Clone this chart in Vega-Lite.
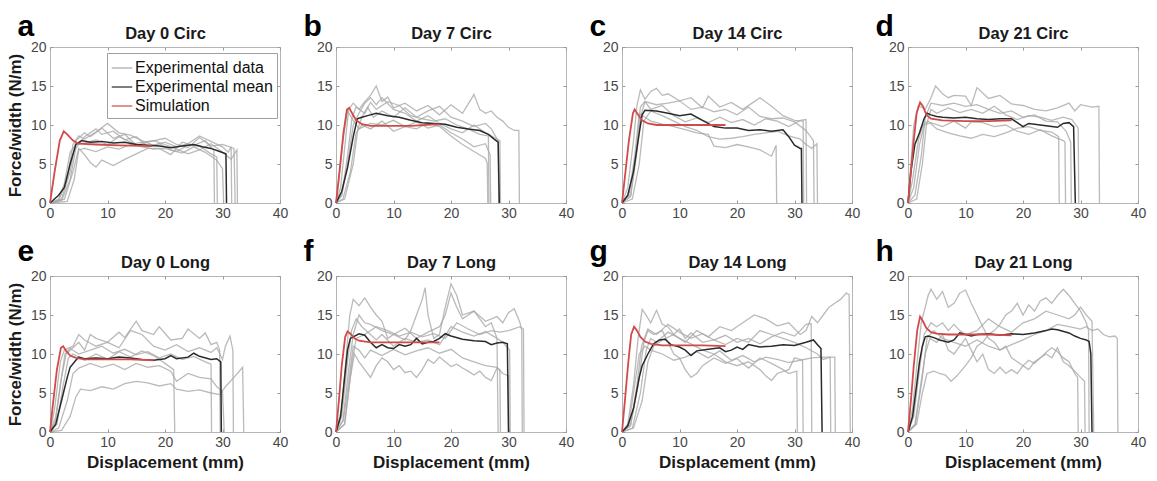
{
"$schema": "https://vega.github.io/schema/vega-lite/v6.json",
"background": "white",
"padding": {"left": 5, "top": 10, "right": 5, "bottom": 5},
"config": {
  "font": "Liberation Sans",
  "view": {"stroke": "#b5b5b5", "strokeWidth": 1},
  "axis": {"grid": false, "domain": false, "ticks": true, "tickColor": "#9a9a9a", "tickSize": -3, "tickWidth": 1,
    "labelFont": "Liberation Sans", "labelFontSize": 14, "labelColor": "#474747", "labelPadding": 6, "labelFlush": false, "labelOverlap": false,
    "titleFont": "Liberation Sans", "titleFontWeight": "bold", "titleColor": "#1a1a1a"},
  "axisLeft": {"labelPadding": 7}
},
"datasets": {
"a": [
{"id":"1","x":0,"y":0},{"id":"1","x":1.5,"y":0.3},{"id":"1","x":3,"y":3},{"id":"1","x":4,"y":7.5},{"id":"1","x":5,"y":8.6},{"id":"1","x":6,"y":8.2},{"id":"1","x":8,"y":9.1},{"id":"1","x":10,"y":10.2},{"id":"1","x":12,"y":9},{"id":"1","x":14,"y":8.7},{"id":"1","x":16,"y":8},{"id":"1","x":18,"y":7.4},{"id":"1","x":20,"y":7.8},{"id":"1","x":22,"y":7.2},{"id":"1","x":24,"y":7.6},{"id":"1","x":26,"y":8.6},{"id":"1","x":28,"y":7.9},{"id":"1","x":30,"y":7.2},{"id":"1","x":31,"y":6.5},{"id":"1","x":31.5,"y":7.2},{"id":"1","x":31.6,"y":0},
{"id":"2","x":0,"y":0},{"id":"2","x":2,"y":0.3},{"id":"2","x":3.5,"y":3},{"id":"2","x":4.5,"y":7},{"id":"2","x":6,"y":8.5},{"id":"2","x":8,"y":9.5},{"id":"2","x":9,"y":8.8},{"id":"2","x":11,"y":9.2},{"id":"2","x":13,"y":8.1},{"id":"2","x":15,"y":8.5},{"id":"2","x":17,"y":7.2},{"id":"2","x":19,"y":7.6},{"id":"2","x":21,"y":6.8},{"id":"2","x":23,"y":6.4},{"id":"2","x":25,"y":7.2},{"id":"2","x":27,"y":6.5},{"id":"2","x":29,"y":5.5},{"id":"2","x":30,"y":4.4},{"id":"2","x":30.2,"y":0},
{"id":"3","x":0,"y":0},{"id":"3","x":2.5,"y":0.5},{"id":"3","x":4,"y":4},{"id":"3","x":5,"y":7},{"id":"3","x":6,"y":6.2},{"id":"3","x":7,"y":5.2},{"id":"3","x":8,"y":4.6},{"id":"3","x":9,"y":5.5},{"id":"3","x":11,"y":4.8},{"id":"3","x":13,"y":5.6},{"id":"3","x":15,"y":6.3},{"id":"3","x":17,"y":7},{"id":"3","x":19,"y":7},{"id":"3","x":21,"y":6.2},{"id":"3","x":23,"y":7.8},{"id":"3","x":25,"y":7.4},{"id":"3","x":27,"y":8},{"id":"3","x":28.5,"y":6.7},{"id":"3","x":28.6,"y":0},
{"id":"4","x":0,"y":0},{"id":"4","x":1.5,"y":0.5},{"id":"4","x":2.5,"y":2.5},{"id":"4","x":3.5,"y":6.5},{"id":"4","x":4.5,"y":7.5},{"id":"4","x":6,"y":7.7},{"id":"4","x":8,"y":8.1},{"id":"4","x":10,"y":7.5},{"id":"4","x":12,"y":8.5},{"id":"4","x":14,"y":7.8},{"id":"4","x":16,"y":7.2},{"id":"4","x":18,"y":6.9},{"id":"4","x":20,"y":7},{"id":"4","x":22,"y":6.6},{"id":"4","x":24,"y":7.4},{"id":"4","x":26,"y":7.3},{"id":"4","x":28,"y":6.3},{"id":"4","x":29,"y":5.9},{"id":"4","x":29.1,"y":0},
{"id":"5","x":0,"y":0},{"id":"5","x":2,"y":0.5},{"id":"5","x":3.5,"y":4},{"id":"5","x":4.5,"y":8},{"id":"5","x":6,"y":9},{"id":"5","x":7,"y":8.5},{"id":"5","x":9,"y":9.6},{"id":"5","x":11,"y":8.3},{"id":"5","x":13,"y":8.8},{"id":"5","x":15,"y":7.4},{"id":"5","x":17,"y":7.8},{"id":"5","x":20,"y":8.3},{"id":"5","x":22,"y":7.5},{"id":"5","x":24,"y":7.1},{"id":"5","x":26,"y":8.4},{"id":"5","x":28,"y":7.3},{"id":"5","x":30,"y":7.5},{"id":"5","x":32,"y":7},{"id":"5","x":32.2,"y":0},
{"id":"6","x":0,"y":0},{"id":"6","x":3,"y":0.2},{"id":"6","x":4.2,"y":3},{"id":"6","x":5,"y":6.8},{"id":"6","x":6,"y":7},{"id":"6","x":8,"y":6.6},{"id":"6","x":10,"y":7.2},{"id":"6","x":12,"y":6.9},{"id":"6","x":14,"y":7.5},{"id":"6","x":16,"y":7.8},{"id":"6","x":18,"y":8},{"id":"6","x":20,"y":7.5},{"id":"6","x":22,"y":6.9},{"id":"6","x":24,"y":6.3},{"id":"6","x":26,"y":6.8},{"id":"6","x":28,"y":7.6},{"id":"6","x":30,"y":6.5},{"id":"6","x":31.5,"y":5.6},{"id":"6","x":32.5,"y":6.8},{"id":"6","x":32.6,"y":0},
{"id":"m","x":0,"y":0},{"id":"m","x":1.5,"y":1},{"id":"m","x":2.5,"y":2},{"id":"m","x":3.5,"y":5},{"id":"m","x":4.5,"y":7.5},{"id":"m","x":5.5,"y":8},{"id":"m","x":7,"y":7.8},{"id":"m","x":9,"y":7.9},{"id":"m","x":11,"y":7.7},{"id":"m","x":13,"y":7.8},{"id":"m","x":15,"y":7.5},{"id":"m","x":17,"y":7.4},{"id":"m","x":19,"y":7.3},{"id":"m","x":21,"y":7.1},{"id":"m","x":23,"y":7.3},{"id":"m","x":25,"y":7.5},{"id":"m","x":26.5,"y":7.2},{"id":"m","x":28,"y":7},{"id":"m","x":29.5,"y":6.6},{"id":"m","x":30.6,"y":6.3},{"id":"m","x":30.7,"y":0},
{"id":"r","x":0,"y":0},{"id":"r","x":0.8,"y":4},{"id":"r","x":1.7,"y":8},{"id":"r","x":2.4,"y":9.2},{"id":"r","x":3,"y":8.8},{"id":"r","x":4,"y":8},{"id":"r","x":5,"y":7.6},{"id":"r","x":8,"y":7.5},{"id":"r","x":12,"y":7.4},{"id":"r","x":17.8,"y":7.3}
],
"b": [
{"id":"1","x":0,"y":0},{"id":"1","x":0.8,"y":2},{"id":"1","x":1.5,"y":7},{"id":"1","x":2.2,"y":12},{"id":"1","x":3,"y":12.8},{"id":"1","x":4,"y":12},{"id":"1","x":5,"y":13},{"id":"1","x":6,"y":13.8},{"id":"1","x":7,"y":15},{"id":"1","x":8,"y":13},{"id":"1","x":9,"y":13.6},{"id":"1","x":10,"y":12.2},{"id":"1","x":12,"y":12.8},{"id":"1","x":14,"y":11.8},{"id":"1","x":16,"y":12.5},{"id":"1","x":18,"y":11.3},{"id":"1","x":20,"y":12.6},{"id":"1","x":22,"y":11.5},{"id":"1","x":24,"y":13.9},{"id":"1","x":25,"y":12},{"id":"1","x":26,"y":11.5},{"id":"1","x":27,"y":11.8},{"id":"1","x":28,"y":11},{"id":"1","x":29,"y":10.5},{"id":"1","x":30,"y":9.7},{"id":"1","x":31,"y":9.3},{"id":"1","x":31.8,"y":9.3},{"id":"1","x":31.9,"y":0},
{"id":"2","x":0,"y":0},{"id":"2","x":1,"y":1},{"id":"2","x":2,"y":5},{"id":"2","x":3,"y":10},{"id":"2","x":4,"y":11.5},{"id":"2","x":5,"y":12.8},{"id":"2","x":6,"y":13.5},{"id":"2","x":7,"y":12.6},{"id":"2","x":8,"y":13.5},{"id":"2","x":10,"y":12},{"id":"2","x":12,"y":11.5},{"id":"2","x":14,"y":10.5},{"id":"2","x":16,"y":11.2},{"id":"2","x":18,"y":10.2},{"id":"2","x":20,"y":9.5},{"id":"2","x":22,"y":9},{"id":"2","x":24,"y":10},{"id":"2","x":26,"y":9},{"id":"2","x":27,"y":8.6},{"id":"2","x":28.5,"y":8},{"id":"2","x":28.6,"y":0},
{"id":"3","x":0,"y":0},{"id":"3","x":1.2,"y":0.5},{"id":"3","x":2.5,"y":4},{"id":"3","x":3.5,"y":9},{"id":"3","x":4.5,"y":10},{"id":"3","x":6,"y":9.5},{"id":"3","x":8,"y":10.5},{"id":"3","x":10,"y":9.2},{"id":"3","x":12,"y":9.8},{"id":"3","x":14,"y":9.5},{"id":"3","x":16,"y":10.3},{"id":"3","x":18,"y":9.8},{"id":"3","x":20,"y":8.6},{"id":"3","x":22,"y":7.5},{"id":"3","x":24,"y":6.6},{"id":"3","x":26,"y":5.7},{"id":"3","x":26.3,"y":5.1},{"id":"3","x":26.4,"y":0},
{"id":"4","x":0,"y":0},{"id":"4","x":0.5,"y":3},{"id":"4","x":1.2,"y":8},{"id":"4","x":2,"y":11.8},{"id":"4","x":3,"y":10.6},{"id":"4","x":4,"y":9.5},{"id":"4","x":6,"y":10.2},{"id":"4","x":8,"y":10},{"id":"4","x":10,"y":10.6},{"id":"4","x":12,"y":9.8},{"id":"4","x":14,"y":10.4},{"id":"4","x":16,"y":9.6},{"id":"4","x":18,"y":10},{"id":"4","x":20,"y":9},{"id":"4","x":22,"y":8.2},{"id":"4","x":24,"y":7.2},{"id":"4","x":26,"y":7.6},{"id":"4","x":26.8,"y":6.2},{"id":"4","x":26.9,"y":0},
{"id":"5","x":0,"y":0},{"id":"5","x":1.5,"y":0.5},{"id":"5","x":3,"y":5},{"id":"5","x":3.8,"y":9.5},{"id":"5","x":4.5,"y":11},{"id":"5","x":5.5,"y":12.3},{"id":"5","x":6.5,"y":11},{"id":"5","x":8,"y":11.8},{"id":"5","x":10,"y":11},{"id":"5","x":12,"y":12.2},{"id":"5","x":14,"y":11},{"id":"5","x":16,"y":11.8},{"id":"5","x":18,"y":12.4},{"id":"5","x":20,"y":11},{"id":"5","x":22,"y":10.5},{"id":"5","x":24,"y":9.8},{"id":"5","x":26,"y":10.2},{"id":"5","x":27,"y":9.5},{"id":"5","x":28.2,"y":8},{"id":"5","x":28.3,"y":0},
{"id":"6","x":0,"y":0},{"id":"6","x":1,"y":1},{"id":"6","x":2,"y":6},{"id":"6","x":2.8,"y":11},{"id":"6","x":3.5,"y":12.3},{"id":"6","x":5,"y":11.5},{"id":"6","x":6,"y":12.9},{"id":"6","x":7,"y":12},{"id":"6","x":9,"y":13},{"id":"6","x":11,"y":12.5},{"id":"6","x":13,"y":11.2},{"id":"6","x":15,"y":10.8},{"id":"6","x":17,"y":10.5},{"id":"6","x":19,"y":10.8},{"id":"6","x":21,"y":10},{"id":"6","x":23,"y":9.5},{"id":"6","x":25,"y":8.8},{"id":"6","x":26.5,"y":8.6},{"id":"6","x":26.6,"y":0},
{"id":"m","x":0,"y":0},{"id":"m","x":1,"y":1.5},{"id":"m","x":2,"y":4.5},{"id":"m","x":3,"y":8.5},{"id":"m","x":3.7,"y":10.8},{"id":"m","x":4.5,"y":11},{"id":"m","x":5.5,"y":11.2},{"id":"m","x":7,"y":11.5},{"id":"m","x":9,"y":11.2},{"id":"m","x":11,"y":11},{"id":"m","x":13,"y":10.6},{"id":"m","x":15,"y":10.3},{"id":"m","x":17,"y":10.2},{"id":"m","x":19,"y":10.1},{"id":"m","x":21,"y":9.7},{"id":"m","x":23,"y":9.5},{"id":"m","x":25,"y":9.3},{"id":"m","x":26.5,"y":8.8},{"id":"m","x":27.5,"y":8.2},{"id":"m","x":28.2,"y":7.8},{"id":"m","x":28.4,"y":0},
{"id":"r","x":0,"y":0},{"id":"r","x":0.6,"y":4},{"id":"r","x":1.3,"y":9},{"id":"r","x":1.9,"y":12},{"id":"r","x":2.3,"y":12.2},{"id":"r","x":2.8,"y":11.5},{"id":"r","x":3.5,"y":10.6},{"id":"r","x":4.5,"y":10.1},{"id":"r","x":6,"y":9.9},{"id":"r","x":9,"y":9.9},{"id":"r","x":13,"y":9.9},{"id":"r","x":18,"y":10.1}
],
"c": [
{"id":"1","x":0,"y":0},{"id":"1","x":1,"y":2},{"id":"1","x":2,"y":8},{"id":"1","x":2.6,"y":12.5},{"id":"1","x":3.2,"y":14.5},{"id":"1","x":4,"y":13.3},{"id":"1","x":5,"y":14.3},{"id":"1","x":6,"y":14.7},{"id":"1","x":7,"y":13.8},{"id":"1","x":8,"y":14},{"id":"1","x":10,"y":13.1},{"id":"1","x":12,"y":13.5},{"id":"1","x":14,"y":12.2},{"id":"1","x":15,"y":13.7},{"id":"1","x":17,"y":12.3},{"id":"1","x":19,"y":12.9},{"id":"1","x":21,"y":12},{"id":"1","x":23,"y":13},{"id":"1","x":24,"y":13.5},{"id":"1","x":26,"y":12.4},{"id":"1","x":28,"y":11.2},{"id":"1","x":30,"y":10.6},{"id":"1","x":31.5,"y":10.5},{"id":"1","x":31.6,"y":0},
{"id":"2","x":0,"y":0},{"id":"2","x":1.5,"y":0.8},{"id":"2","x":2.5,"y":6},{"id":"2","x":3.2,"y":11},{"id":"2","x":4,"y":13},{"id":"2","x":6,"y":12.6},{"id":"2","x":8,"y":12.8},{"id":"2","x":10,"y":13.1},{"id":"2","x":12,"y":12},{"id":"2","x":14,"y":12.3},{"id":"2","x":16,"y":11.7},{"id":"2","x":18,"y":12},{"id":"2","x":20,"y":11.3},{"id":"2","x":22,"y":12.3},{"id":"2","x":24,"y":11.1},{"id":"2","x":26,"y":10.8},{"id":"2","x":28,"y":10.9},{"id":"2","x":30,"y":10.4},{"id":"2","x":32,"y":9.3},{"id":"2","x":33.3,"y":8},{"id":"2","x":33.4,"y":0},
{"id":"3","x":0,"y":0},{"id":"3","x":1.2,"y":1},{"id":"3","x":2.2,"y":6},{"id":"3","x":3,"y":11.5},{"id":"3","x":4,"y":11},{"id":"3","x":5,"y":10.5},{"id":"3","x":7,"y":10.1},{"id":"3","x":9,"y":9.8},{"id":"3","x":11,"y":9.4},{"id":"3","x":13,"y":9},{"id":"3","x":15,"y":8.8},{"id":"3","x":16,"y":7.3},{"id":"3","x":18,"y":7.1},{"id":"3","x":20,"y":7.5},{"id":"3","x":22,"y":7.2},{"id":"3","x":24,"y":6.8},{"id":"3","x":26,"y":6},{"id":"3","x":26.8,"y":7.4},{"id":"3","x":26.9,"y":0},
{"id":"4","x":0,"y":0},{"id":"4","x":1.8,"y":0.5},{"id":"4","x":3,"y":5},{"id":"4","x":3.8,"y":10.5},{"id":"4","x":5,"y":11.8},{"id":"4","x":7,"y":11.2},{"id":"4","x":9,"y":10.5},{"id":"4","x":11,"y":9.8},{"id":"4","x":13,"y":9.3},{"id":"4","x":15,"y":8.5},{"id":"4","x":17,"y":8.2},{"id":"4","x":19,"y":8.3},{"id":"4","x":21,"y":8.5},{"id":"4","x":23,"y":8.8},{"id":"4","x":25,"y":9},{"id":"4","x":27,"y":9.2},{"id":"4","x":29,"y":8.6},{"id":"4","x":31,"y":8.2},{"id":"4","x":32,"y":7.5},{"id":"4","x":33,"y":7},{"id":"4","x":33.9,"y":7.6},{"id":"4","x":34,"y":0},
{"id":"5","x":0,"y":0},{"id":"5","x":1.5,"y":1},{"id":"5","x":2.5,"y":7},{"id":"5","x":3.2,"y":12.3},{"id":"5","x":4,"y":13},{"id":"5","x":5,"y":12},{"id":"5","x":7,"y":12.5},{"id":"5","x":9,"y":11.2},{"id":"5","x":11,"y":10.4},{"id":"5","x":13,"y":10.9},{"id":"5","x":15,"y":10.3},{"id":"5","x":17,"y":11},{"id":"5","x":19,"y":10.3},{"id":"5","x":21,"y":10.7},{"id":"5","x":23,"y":10},{"id":"5","x":25,"y":10.8},{"id":"5","x":27,"y":10.5},{"id":"5","x":29,"y":9.8},{"id":"5","x":31,"y":10.6},{"id":"5","x":32,"y":10.7},{"id":"5","x":32.1,"y":0},
{"id":"m","x":0,"y":0},{"id":"m","x":1,"y":1},{"id":"m","x":2,"y":4},{"id":"m","x":3,"y":9},{"id":"m","x":3.5,"y":11.3},{"id":"m","x":4,"y":11.9},{"id":"m","x":6,"y":11.8},{"id":"m","x":8,"y":11.5},{"id":"m","x":10,"y":11.2},{"id":"m","x":12,"y":11.4},{"id":"m","x":14,"y":10.6},{"id":"m","x":16,"y":9.8},{"id":"m","x":18,"y":9.6},{"id":"m","x":20,"y":9.6},{"id":"m","x":22,"y":9.3},{"id":"m","x":24,"y":9.4},{"id":"m","x":26,"y":9.2},{"id":"m","x":28,"y":9.4},{"id":"m","x":29,"y":8.5},{"id":"m","x":30,"y":7.4},{"id":"m","x":31,"y":7},{"id":"m","x":31.2,"y":7},{"id":"m","x":31.3,"y":0},
{"id":"r","x":0,"y":0},{"id":"r","x":0.6,"y":4},{"id":"r","x":1.2,"y":8},{"id":"r","x":1.9,"y":11.5},{"id":"r","x":2.2,"y":12},{"id":"r","x":2.7,"y":11.4},{"id":"r","x":3.5,"y":10.6},{"id":"r","x":4.5,"y":10.2},{"id":"r","x":6,"y":10},{"id":"r","x":10,"y":10},{"id":"r","x":14,"y":10},{"id":"r","x":18,"y":10}
],
"d": [
{"id":"1","x":0,"y":0},{"id":"1","x":0.5,"y":5},{"id":"1","x":1,"y":10},{"id":"1","x":1.8,"y":12.5},{"id":"1","x":3,"y":12},{"id":"1","x":4,"y":13.5},{"id":"1","x":4.8,"y":15},{"id":"1","x":6,"y":14},{"id":"1","x":7,"y":13.5},{"id":"1","x":8,"y":13.8},{"id":"1","x":10,"y":13.7},{"id":"1","x":11,"y":12.5},{"id":"1","x":12,"y":14.8},{"id":"1","x":14,"y":13.4},{"id":"1","x":16,"y":13.8},{"id":"1","x":18,"y":12.7},{"id":"1","x":20,"y":12.5},{"id":"1","x":22,"y":12},{"id":"1","x":24,"y":11.8},{"id":"1","x":26,"y":12.2},{"id":"1","x":28,"y":12.8},{"id":"1","x":29,"y":11.8},{"id":"1","x":30,"y":12.6},{"id":"1","x":32,"y":12.3},{"id":"1","x":33.2,"y":12.4},{"id":"1","x":33.3,"y":0},
{"id":"2","x":0,"y":0},{"id":"2","x":1.5,"y":0.5},{"id":"2","x":2.5,"y":5},{"id":"2","x":3.2,"y":10},{"id":"2","x":4,"y":12},{"id":"2","x":5,"y":11.5},{"id":"2","x":7,"y":12.2},{"id":"2","x":9,"y":11.6},{"id":"2","x":11,"y":12},{"id":"2","x":13,"y":11.5},{"id":"2","x":15,"y":12.4},{"id":"2","x":17,"y":11.3},{"id":"2","x":19,"y":10.7},{"id":"2","x":21,"y":11.2},{"id":"2","x":23,"y":11},{"id":"2","x":25,"y":10.6},{"id":"2","x":27,"y":11},{"id":"2","x":28.5,"y":10.7},{"id":"2","x":29.6,"y":9.6},{"id":"2","x":29.7,"y":0},
{"id":"3","x":0,"y":0},{"id":"3","x":0.8,"y":3},{"id":"3","x":1.8,"y":8},{"id":"3","x":2.6,"y":10},{"id":"3","x":3.5,"y":10.5},{"id":"3","x":5,"y":9.5},{"id":"3","x":7,"y":9},{"id":"3","x":9,"y":8.6},{"id":"3","x":11,"y":8.3},{"id":"3","x":13,"y":8.8},{"id":"3","x":15,"y":8.5},{"id":"3","x":17,"y":9},{"id":"3","x":19,"y":9.6},{"id":"3","x":21,"y":9.8},{"id":"3","x":23,"y":9.3},{"id":"3","x":25,"y":9.1},{"id":"3","x":26.2,"y":8.5},{"id":"3","x":26.3,"y":0},
{"id":"4","x":0,"y":0},{"id":"4","x":1,"y":2},{"id":"4","x":2,"y":7.5},{"id":"4","x":2.8,"y":10},{"id":"4","x":4,"y":10.3},{"id":"4","x":6,"y":9.8},{"id":"4","x":8,"y":10.5},{"id":"4","x":10,"y":9.6},{"id":"4","x":11,"y":10.4},{"id":"4","x":13,"y":10.3},{"id":"4","x":15,"y":9.8},{"id":"4","x":17,"y":10},{"id":"4","x":19,"y":9.2},{"id":"4","x":21,"y":8.8},{"id":"4","x":23,"y":9.4},{"id":"4","x":25,"y":8.6},{"id":"4","x":27,"y":8},{"id":"4","x":27.3,"y":7.8},{"id":"4","x":27.4,"y":0},
{"id":"5","x":0,"y":0},{"id":"5","x":1.2,"y":1},{"id":"5","x":2.3,"y":6},{"id":"5","x":3,"y":11},{"id":"5","x":4,"y":12.8},{"id":"5","x":6,"y":12.5},{"id":"5","x":8,"y":12.8},{"id":"5","x":10,"y":12.4},{"id":"5","x":12,"y":12.6},{"id":"5","x":14,"y":12},{"id":"5","x":16,"y":11.5},{"id":"5","x":18,"y":11.8},{"id":"5","x":20,"y":11},{"id":"5","x":22,"y":11.3},{"id":"5","x":24,"y":10.5},{"id":"5","x":26,"y":10.4},{"id":"5","x":27.5,"y":9.2},{"id":"5","x":28.3,"y":7.8},{"id":"5","x":28.4,"y":0},
{"id":"m","x":0,"y":0},{"id":"m","x":0.5,"y":4},{"id":"m","x":1.2,"y":7.5},{"id":"m","x":2,"y":9},{"id":"m","x":2.8,"y":10.8},{"id":"m","x":3.3,"y":11.5},{"id":"m","x":4,"y":11.3},{"id":"m","x":5,"y":11.1},{"id":"m","x":6,"y":11},{"id":"m","x":8,"y":10.9},{"id":"m","x":10,"y":11},{"id":"m","x":12,"y":10.8},{"id":"m","x":14,"y":10.7},{"id":"m","x":16,"y":10.8},{"id":"m","x":18,"y":10.8},{"id":"m","x":19,"y":10.3},{"id":"m","x":20,"y":9.8},{"id":"m","x":21,"y":10.2},{"id":"m","x":23,"y":10},{"id":"m","x":25,"y":9.8},{"id":"m","x":26,"y":9.7},{"id":"m","x":27,"y":10.2},{"id":"m","x":28,"y":10.3},{"id":"m","x":28.8,"y":9.8},{"id":"m","x":29.1,"y":0},
{"id":"r","x":0,"y":0},{"id":"r","x":0.5,"y":4},{"id":"r","x":1,"y":8},{"id":"r","x":1.5,"y":11.5},{"id":"r","x":2.1,"y":12.9},{"id":"r","x":2.6,"y":12.4},{"id":"r","x":3.2,"y":11.3},{"id":"r","x":4,"y":10.8},{"id":"r","x":6,"y":10.6},{"id":"r","x":10,"y":10.5},{"id":"r","x":14,"y":10.5},{"id":"r","x":18,"y":10.6}
],
"e": [
{"id":"1","x":0,"y":0},{"id":"1","x":1,"y":2},{"id":"1","x":2,"y":7},{"id":"1","x":2.8,"y":10},{"id":"1","x":4,"y":10.8},{"id":"1","x":5,"y":11.5},{"id":"1","x":6,"y":10.5},{"id":"1","x":7,"y":12.5},{"id":"1","x":8,"y":12},{"id":"1","x":10,"y":11.5},{"id":"1","x":12,"y":12.8},{"id":"1","x":13,"y":12.1},{"id":"1","x":15,"y":14.2},{"id":"1","x":16,"y":13},{"id":"1","x":18,"y":12.5},{"id":"1","x":19,"y":13.5},{"id":"1","x":21,"y":11.8},{"id":"1","x":23,"y":12},{"id":"1","x":24,"y":13.2},{"id":"1","x":26,"y":12},{"id":"1","x":27,"y":12.7},{"id":"1","x":28,"y":11.2},{"id":"1","x":29,"y":11.5},{"id":"1","x":29.5,"y":10.5},{"id":"1","x":29.6,"y":0},
{"id":"2","x":0,"y":0},{"id":"2","x":0.8,"y":3},{"id":"2","x":1.8,"y":9},{"id":"2","x":2.5,"y":10.5},{"id":"2","x":4,"y":11},{"id":"2","x":5,"y":12.5},{"id":"2","x":6,"y":11.8},{"id":"2","x":8,"y":11},{"id":"2","x":10,"y":11.5},{"id":"2","x":12,"y":10.8},{"id":"2","x":14,"y":13},{"id":"2","x":16,"y":12.5},{"id":"2","x":18,"y":11},{"id":"2","x":20,"y":10.5},{"id":"2","x":22,"y":11.2},{"id":"2","x":24,"y":10.3},{"id":"2","x":26,"y":10.8},{"id":"2","x":28,"y":10.2},{"id":"2","x":29,"y":10.8},{"id":"2","x":30,"y":9.3},{"id":"2","x":30.5,"y":11},{"id":"2","x":31.3,"y":12.3},{"id":"2","x":31.8,"y":10.5},{"id":"2","x":31.9,"y":0},
{"id":"3","x":0,"y":0},{"id":"3","x":1.5,"y":0.5},{"id":"3","x":3,"y":4},{"id":"3","x":4,"y":7.5},{"id":"3","x":5,"y":8.2},{"id":"3","x":7,"y":8.8},{"id":"3","x":9,"y":8.3},{"id":"3","x":11,"y":8.7},{"id":"3","x":13,"y":8},{"id":"3","x":15,"y":8.8},{"id":"3","x":17,"y":8.3},{"id":"3","x":19,"y":8.5},{"id":"3","x":21,"y":7.8},{"id":"3","x":22,"y":6.5},{"id":"3","x":24,"y":7.5},{"id":"3","x":26,"y":7},{"id":"3","x":28,"y":6.8},{"id":"3","x":29,"y":5.8},{"id":"3","x":30,"y":5.2},{"id":"3","x":30.3,"y":0},
{"id":"4","x":0,"y":0},{"id":"4","x":2,"y":0.2},{"id":"4","x":3.5,"y":2},{"id":"4","x":4.5,"y":4.5},{"id":"4","x":5.3,"y":5.5},{"id":"4","x":7,"y":5.3},{"id":"4","x":9,"y":5.8},{"id":"4","x":11,"y":5.5},{"id":"4","x":13,"y":6.2},{"id":"4","x":15,"y":6.5},{"id":"4","x":17,"y":6.3},{"id":"4","x":19,"y":5.9},{"id":"4","x":21,"y":6.2},{"id":"4","x":22,"y":5.5},{"id":"4","x":24,"y":5.2},{"id":"4","x":26,"y":5.4},{"id":"4","x":28,"y":5},{"id":"4","x":29.5,"y":4.8},{"id":"4","x":30.5,"y":5.8},{"id":"4","x":32,"y":7},{"id":"4","x":33.5,"y":8.3},{"id":"4","x":33.7,"y":0},
{"id":"5","x":0,"y":0},{"id":"5","x":1.2,"y":1},{"id":"5","x":2.3,"y":6},{"id":"5","x":3.2,"y":9.5},{"id":"5","x":4,"y":10},{"id":"5","x":6,"y":9.2},{"id":"5","x":8,"y":10},{"id":"5","x":10,"y":9.3},{"id":"5","x":12,"y":10.3},{"id":"5","x":14,"y":9.6},{"id":"5","x":16,"y":10.4},{"id":"5","x":18,"y":9.8},{"id":"5","x":20,"y":8.8},{"id":"5","x":21.5,"y":8},{"id":"5","x":21.7,"y":0},
{"id":"6","x":0,"y":0},{"id":"6","x":1,"y":1.5},{"id":"6","x":2,"y":7},{"id":"6","x":2.6,"y":10},{"id":"6","x":3.5,"y":10.7},{"id":"6","x":5,"y":10},{"id":"6","x":7,"y":10.5},{"id":"6","x":9,"y":11},{"id":"6","x":11,"y":10.1},{"id":"6","x":13,"y":10.6},{"id":"6","x":15,"y":9.9},{"id":"6","x":17,"y":10.3},{"id":"6","x":19,"y":9.5},{"id":"6","x":21,"y":10},{"id":"6","x":23,"y":9.3},{"id":"6","x":25,"y":9.7},{"id":"6","x":27,"y":9},{"id":"6","x":28,"y":8.7},{"id":"6","x":28.1,"y":0},
{"id":"m","x":0,"y":0},{"id":"m","x":1,"y":1},{"id":"m","x":2,"y":4},{"id":"m","x":3,"y":7},{"id":"m","x":3.5,"y":8.3},{"id":"m","x":4.5,"y":9.2},{"id":"m","x":5,"y":9.6},{"id":"m","x":6,"y":9.4},{"id":"m","x":8,"y":9.5},{"id":"m","x":10,"y":9.4},{"id":"m","x":12,"y":9.6},{"id":"m","x":14,"y":9.5},{"id":"m","x":16,"y":9.3},{"id":"m","x":18,"y":9.2},{"id":"m","x":20,"y":9.4},{"id":"m","x":21,"y":9.8},{"id":"m","x":22,"y":9.4},{"id":"m","x":24,"y":9.6},{"id":"m","x":25,"y":10.1},{"id":"m","x":26,"y":9.7},{"id":"m","x":28,"y":9.3},{"id":"m","x":29,"y":9.4},{"id":"m","x":29.7,"y":9},{"id":"m","x":29.8,"y":0},
{"id":"r","x":0,"y":0},{"id":"r","x":0.5,"y":3.5},{"id":"r","x":1.2,"y":8},{"id":"r","x":1.9,"y":10.8},{"id":"r","x":2.3,"y":11},{"id":"r","x":2.8,"y":10.4},{"id":"r","x":3.5,"y":9.8},{"id":"r","x":4.5,"y":9.5},{"id":"r","x":6,"y":9.3},{"id":"r","x":10,"y":9.3},{"id":"r","x":14,"y":9.3},{"id":"r","x":18,"y":9.2}
],
"f": [
{"id":"1","x":0,"y":0},{"id":"1","x":1,"y":3},{"id":"1","x":1.8,"y":10},{"id":"1","x":2.4,"y":15},{"id":"1","x":3,"y":17},{"id":"1","x":4,"y":16.2},{"id":"1","x":5,"y":17.2},{"id":"1","x":6,"y":16},{"id":"1","x":7,"y":15},{"id":"1","x":8,"y":14.2},{"id":"1","x":9,"y":12},{"id":"1","x":10,"y":12.5},{"id":"1","x":12,"y":11.8},{"id":"1","x":13,"y":13},{"id":"1","x":14,"y":15},{"id":"1","x":15,"y":17},{"id":"1","x":15.5,"y":18.5},{"id":"1","x":16,"y":15},{"id":"1","x":17,"y":12},{"id":"1","x":18,"y":12.5},{"id":"1","x":19,"y":16},{"id":"1","x":20,"y":19},{"id":"1","x":21,"y":17.5},{"id":"1","x":22,"y":15},{"id":"1","x":24,"y":15.5},{"id":"1","x":26,"y":13.5},{"id":"1","x":27,"y":14},{"id":"1","x":28,"y":12},{"id":"1","x":28.2,"y":0},
{"id":"2","x":0,"y":0},{"id":"2","x":1.2,"y":1.5},{"id":"2","x":2.2,"y":8},{"id":"2","x":3,"y":12.5},{"id":"2","x":4,"y":15},{"id":"2","x":5,"y":14},{"id":"2","x":6,"y":13.8},{"id":"2","x":8,"y":13},{"id":"2","x":10,"y":12.5},{"id":"2","x":12,"y":13.3},{"id":"2","x":14,"y":12},{"id":"2","x":16,"y":12.8},{"id":"2","x":18,"y":13.5},{"id":"2","x":19,"y":15},{"id":"2","x":20,"y":17.8},{"id":"2","x":21,"y":16},{"id":"2","x":22,"y":14.5},{"id":"2","x":24,"y":15.5},{"id":"2","x":26,"y":14.2},{"id":"2","x":28,"y":14.8},{"id":"2","x":29,"y":14},{"id":"2","x":30,"y":15.3},{"id":"2","x":31,"y":15.8},{"id":"2","x":32,"y":14},{"id":"2","x":32.3,"y":13},{"id":"2","x":32.4,"y":0},
{"id":"3","x":0,"y":0},{"id":"3","x":1.5,"y":1},{"id":"3","x":2.5,"y":7},{"id":"3","x":3.2,"y":10},{"id":"3","x":4,"y":9},{"id":"3","x":5,"y":8},{"id":"3","x":6,"y":7},{"id":"3","x":7,"y":8.5},{"id":"3","x":8,"y":9.5},{"id":"3","x":9,"y":9},{"id":"3","x":10,"y":8},{"id":"3","x":11,"y":8.5},{"id":"3","x":12,"y":7.6},{"id":"3","x":13,"y":7.8},{"id":"3","x":14,"y":7},{"id":"3","x":15,"y":8},{"id":"3","x":16,"y":9.3},{"id":"3","x":17,"y":8.8},{"id":"3","x":18,"y":9.6},{"id":"3","x":19,"y":9},{"id":"3","x":20,"y":8.4},{"id":"3","x":21,"y":8.7},{"id":"3","x":22,"y":8.2},{"id":"3","x":23,"y":7.8},{"id":"3","x":24,"y":7.3},{"id":"3","x":25,"y":7.8},{"id":"3","x":26,"y":7},{"id":"3","x":27,"y":6.6},{"id":"3","x":28,"y":8.2},{"id":"3","x":28.5,"y":8},{"id":"3","x":28.6,"y":0},
{"id":"4","x":0,"y":0},{"id":"4","x":1,"y":2},{"id":"4","x":2,"y":9},{"id":"4","x":2.7,"y":13},{"id":"4","x":3.5,"y":14.5},{"id":"4","x":4.5,"y":13.5},{"id":"4","x":6,"y":12.5},{"id":"4","x":7,"y":11.8},{"id":"4","x":8,"y":12.5},{"id":"4","x":10,"y":11},{"id":"4","x":12,"y":12},{"id":"4","x":14,"y":11.5},{"id":"4","x":16,"y":11.8},{"id":"4","x":18,"y":11.2},{"id":"4","x":20,"y":13.5},{"id":"4","x":22,"y":12.8},{"id":"4","x":24,"y":12.3},{"id":"4","x":26,"y":12.9},{"id":"4","x":28,"y":12},{"id":"4","x":29,"y":11.5},{"id":"4","x":30.2,"y":10.5},{"id":"4","x":30.3,"y":0},
{"id":"5","x":0,"y":0},{"id":"5","x":1.3,"y":1.5},{"id":"5","x":2.3,"y":7},{"id":"5","x":3,"y":11},{"id":"5","x":4,"y":10.5},{"id":"5","x":5,"y":9.5},{"id":"5","x":6,"y":10.5},{"id":"5","x":8,"y":9.8},{"id":"5","x":10,"y":10.6},{"id":"5","x":12,"y":9.9},{"id":"5","x":14,"y":10.4},{"id":"5","x":16,"y":10.8},{"id":"5","x":18,"y":10.1},{"id":"5","x":20,"y":10.6},{"id":"5","x":22,"y":9.5},{"id":"5","x":24,"y":9},{"id":"5","x":26,"y":8.5},{"id":"5","x":28,"y":8.3},{"id":"5","x":29,"y":7.5},{"id":"5","x":30,"y":7.2},{"id":"5","x":30.1,"y":0},
{"id":"6","x":0,"y":0},{"id":"6","x":1.5,"y":1},{"id":"6","x":2.8,"y":9},{"id":"6","x":3.5,"y":12},{"id":"6","x":5,"y":12.5},{"id":"6","x":7,"y":13.5},{"id":"6","x":9,"y":13},{"id":"6","x":11,"y":12.3},{"id":"6","x":13,"y":12.8},{"id":"6","x":15,"y":12.2},{"id":"6","x":17,"y":12.6},{"id":"6","x":19,"y":12},{"id":"6","x":21,"y":14},{"id":"6","x":23,"y":13.2},{"id":"6","x":25,"y":12.5},{"id":"6","x":27,"y":13},{"id":"6","x":28.5,"y":12.8},{"id":"6","x":30,"y":13},{"id":"6","x":32,"y":13.5},{"id":"6","x":32.6,"y":13.2},{"id":"6","x":32.7,"y":0},
{"id":"m","x":0,"y":0},{"id":"m","x":0.8,"y":2},{"id":"m","x":1.5,"y":7},{"id":"m","x":2,"y":10.5},{"id":"m","x":2.5,"y":12},{"id":"m","x":3,"y":12.2},{"id":"m","x":4,"y":12.6},{"id":"m","x":5,"y":12.4},{"id":"m","x":6,"y":11.5},{"id":"m","x":7,"y":10.8},{"id":"m","x":8,"y":11.2},{"id":"m","x":9,"y":10.8},{"id":"m","x":10,"y":10.7},{"id":"m","x":11,"y":11.2},{"id":"m","x":12,"y":11},{"id":"m","x":13,"y":11.2},{"id":"m","x":14,"y":12},{"id":"m","x":15,"y":11.3},{"id":"m","x":16,"y":11.5},{"id":"m","x":17,"y":11.6},{"id":"m","x":18,"y":12},{"id":"m","x":19,"y":12.6},{"id":"m","x":20,"y":12.3},{"id":"m","x":22,"y":11.9},{"id":"m","x":24,"y":11.7},{"id":"m","x":26,"y":11.6},{"id":"m","x":27,"y":11.2},{"id":"m","x":28,"y":11.4},{"id":"m","x":29,"y":11.5},{"id":"m","x":29.8,"y":11.3},{"id":"m","x":30,"y":0},
{"id":"r","x":0,"y":0},{"id":"r","x":0.5,"y":4},{"id":"r","x":1,"y":8.5},{"id":"r","x":1.6,"y":12.2},{"id":"r","x":2,"y":12.9},{"id":"r","x":2.5,"y":12.6},{"id":"r","x":3.2,"y":12},{"id":"r","x":4,"y":11.7},{"id":"r","x":6,"y":11.5},{"id":"r","x":10,"y":11.5},{"id":"r","x":14,"y":11.5},{"id":"r","x":18,"y":11.5}
],
"g": [
{"id":"1","x":0,"y":0},{"id":"1","x":1,"y":1},{"id":"1","x":2,"y":6},{"id":"1","x":2.8,"y":12},{"id":"1","x":3.5,"y":15.7},{"id":"1","x":4,"y":15.2},{"id":"1","x":5,"y":14},{"id":"1","x":6,"y":15.6},{"id":"1","x":7,"y":13.8},{"id":"1","x":8,"y":13.5},{"id":"1","x":9,"y":12.5},{"id":"1","x":10,"y":13.2},{"id":"1","x":11,"y":12},{"id":"1","x":12,"y":12.7},{"id":"1","x":14,"y":11.5},{"id":"1","x":16,"y":11.8},{"id":"1","x":18,"y":11.2},{"id":"1","x":20,"y":12},{"id":"1","x":22,"y":11.5},{"id":"1","x":24,"y":13},{"id":"1","x":26,"y":12.5},{"id":"1","x":28,"y":12},{"id":"1","x":30,"y":11.5},{"id":"1","x":32,"y":10.8},{"id":"1","x":34,"y":10},{"id":"1","x":35,"y":9.3},{"id":"1","x":36.2,"y":9.6},{"id":"1","x":36.3,"y":0},
{"id":"2","x":0,"y":0},{"id":"2","x":1.5,"y":1},{"id":"2","x":2.8,"y":6},{"id":"2","x":3.8,"y":11.5},{"id":"2","x":4.5,"y":13},{"id":"2","x":5.5,"y":12.5},{"id":"2","x":7,"y":13},{"id":"2","x":8,"y":11.5},{"id":"2","x":9,"y":10},{"id":"2","x":10,"y":9.5},{"id":"2","x":11,"y":8},{"id":"2","x":12,"y":7},{"id":"2","x":13,"y":7.5},{"id":"2","x":14,"y":8.5},{"id":"2","x":16,"y":9.5},{"id":"2","x":18,"y":8.8},{"id":"2","x":20,"y":9.4},{"id":"2","x":22,"y":8.2},{"id":"2","x":24,"y":9.5},{"id":"2","x":26,"y":8.8},{"id":"2","x":28,"y":8},{"id":"2","x":29,"y":7.5},{"id":"2","x":30.4,"y":7.8},{"id":"2","x":30.5,"y":0},
{"id":"3","x":0,"y":0},{"id":"3","x":2,"y":0.5},{"id":"3","x":3.5,"y":4},{"id":"3","x":4.5,"y":9},{"id":"3","x":5.5,"y":11},{"id":"3","x":7,"y":11.8},{"id":"3","x":9,"y":12.5},{"id":"3","x":11,"y":11.5},{"id":"3","x":13,"y":13},{"id":"3","x":15,"y":12.2},{"id":"3","x":17,"y":13.5},{"id":"3","x":19,"y":13},{"id":"3","x":21,"y":14},{"id":"3","x":23,"y":15},{"id":"3","x":25,"y":14.5},{"id":"3","x":27,"y":13.6},{"id":"3","x":29,"y":14},{"id":"3","x":31,"y":12.5},{"id":"3","x":32,"y":13},{"id":"3","x":33,"y":14.8},{"id":"3","x":34,"y":14},{"id":"3","x":35,"y":15},{"id":"3","x":36,"y":16},{"id":"3","x":37,"y":16.5},{"id":"3","x":38,"y":17},{"id":"3","x":39,"y":17.8},{"id":"3","x":39.5,"y":17.6},{"id":"3","x":39.7,"y":0},
{"id":"4","x":0,"y":0},{"id":"4","x":1.2,"y":1},{"id":"4","x":2.2,"y":6},{"id":"4","x":3,"y":10},{"id":"4","x":4,"y":11},{"id":"4","x":5,"y":10.5},{"id":"4","x":7,"y":10},{"id":"4","x":9,"y":9.2},{"id":"4","x":11,"y":9.6},{"id":"4","x":13,"y":10.3},{"id":"4","x":15,"y":9.5},{"id":"4","x":17,"y":10.4},{"id":"4","x":19,"y":9.2},{"id":"4","x":21,"y":9.8},{"id":"4","x":23,"y":9},{"id":"4","x":25,"y":9.6},{"id":"4","x":27,"y":9.3},{"id":"4","x":29,"y":8.9},{"id":"4","x":31,"y":9.2},{"id":"4","x":33,"y":9.5},{"id":"4","x":35,"y":9.6},{"id":"4","x":37,"y":9.6},{"id":"4","x":37.1,"y":0},
{"id":"5","x":0,"y":0},{"id":"5","x":1.8,"y":0.5},{"id":"5","x":3.2,"y":5},{"id":"5","x":4.2,"y":10.5},{"id":"5","x":5,"y":12},{"id":"5","x":6,"y":11.5},{"id":"5","x":8,"y":12.8},{"id":"5","x":10,"y":12},{"id":"5","x":12,"y":11.3},{"id":"5","x":14,"y":10.5},{"id":"5","x":16,"y":10},{"id":"5","x":18,"y":9},{"id":"5","x":20,"y":8.5},{"id":"5","x":22,"y":9},{"id":"5","x":24,"y":8},{"id":"5","x":25,"y":7.2},{"id":"5","x":26,"y":6.6},{"id":"5","x":27,"y":7.5},{"id":"5","x":29,"y":8},{"id":"5","x":30,"y":9.5},{"id":"5","x":31.4,"y":9.2},{"id":"5","x":31.5,"y":0},
{"id":"6","x":0,"y":0},{"id":"6","x":1.5,"y":0.8},{"id":"6","x":2.6,"y":6},{"id":"6","x":3.4,"y":11},{"id":"6","x":4.5,"y":13.2},{"id":"6","x":6,"y":12.5},{"id":"6","x":8,"y":13.8},{"id":"6","x":10,"y":12.8},{"id":"6","x":12,"y":12},{"id":"6","x":14,"y":12.6},{"id":"6","x":16,"y":11.8},{"id":"6","x":18,"y":12.4},{"id":"6","x":20,"y":11.5},{"id":"6","x":22,"y":12},{"id":"6","x":24,"y":11.3},{"id":"6","x":26,"y":12.2},{"id":"6","x":28,"y":12.8},{"id":"6","x":30,"y":12.3},{"id":"6","x":31,"y":13},{"id":"6","x":32,"y":13.8},{"id":"6","x":32.9,"y":13.9},{"id":"6","x":33,"y":0},
{"id":"m","x":0,"y":0},{"id":"m","x":1,"y":0.8},{"id":"m","x":2,"y":3},{"id":"m","x":3,"y":7},{"id":"m","x":3.5,"y":8.5},{"id":"m","x":4.5,"y":10},{"id":"m","x":5.5,"y":11.3},{"id":"m","x":6.5,"y":11.8},{"id":"m","x":7.5,"y":11.9},{"id":"m","x":8.5,"y":11.2},{"id":"m","x":10,"y":10.9},{"id":"m","x":11,"y":10.5},{"id":"m","x":12,"y":9.8},{"id":"m","x":13,"y":10.4},{"id":"m","x":15,"y":10.6},{"id":"m","x":17,"y":10.8},{"id":"m","x":18,"y":10.3},{"id":"m","x":19,"y":10.5},{"id":"m","x":20,"y":10.9},{"id":"m","x":21,"y":10.6},{"id":"m","x":22,"y":11.2},{"id":"m","x":24,"y":10.9},{"id":"m","x":26,"y":11},{"id":"m","x":28,"y":11.2},{"id":"m","x":30,"y":11.1},{"id":"m","x":32,"y":11.5},{"id":"m","x":33.3,"y":11.8},{"id":"m","x":34,"y":11.2},{"id":"m","x":34.6,"y":10.7},{"id":"m","x":34.8,"y":0},
{"id":"r","x":0,"y":0},{"id":"r","x":0.5,"y":4},{"id":"r","x":1.1,"y":9},{"id":"r","x":1.6,"y":12.5},{"id":"r","x":2.1,"y":13.5},{"id":"r","x":2.6,"y":13},{"id":"r","x":3.2,"y":12.2},{"id":"r","x":4,"y":11.6},{"id":"r","x":5,"y":11.3},{"id":"r","x":7,"y":11.1},{"id":"r","x":10,"y":11.1},{"id":"r","x":14,"y":11.1},{"id":"r","x":18,"y":11}
],
"h": [
{"id":"1","x":0,"y":0},{"id":"1","x":0.8,"y":3},{"id":"1","x":1.6,"y":9},{"id":"1","x":2.3,"y":14},{"id":"1","x":3,"y":16},{"id":"1","x":3.5,"y":17.5},{"id":"1","x":4,"y":18.3},{"id":"1","x":5,"y":17},{"id":"1","x":6,"y":18},{"id":"1","x":7,"y":16},{"id":"1","x":8,"y":16.5},{"id":"1","x":9,"y":17.8},{"id":"1","x":10,"y":18.2},{"id":"1","x":11,"y":16.5},{"id":"1","x":12,"y":15},{"id":"1","x":13,"y":13.5},{"id":"1","x":14,"y":12},{"id":"1","x":15,"y":11.5},{"id":"1","x":16,"y":10.5},{"id":"1","x":17,"y":11},{"id":"1","x":18,"y":9.5},{"id":"1","x":19,"y":9},{"id":"1","x":20,"y":8.5},{"id":"1","x":21,"y":9.2},{"id":"1","x":22,"y":8.8},{"id":"1","x":23,"y":9.5},{"id":"1","x":24,"y":10.2},{"id":"1","x":25,"y":10.8},{"id":"1","x":26,"y":10.3},{"id":"1","x":27,"y":9.5},{"id":"1","x":28,"y":9},{"id":"1","x":29,"y":7.5},{"id":"1","x":29.5,"y":7},{"id":"1","x":29.6,"y":0},
{"id":"2","x":0,"y":0},{"id":"2","x":1.2,"y":1},{"id":"2","x":2.2,"y":6},{"id":"2","x":3,"y":10},{"id":"2","x":3.8,"y":12},{"id":"2","x":5,"y":11.5},{"id":"2","x":6,"y":12.5},{"id":"2","x":7,"y":10.5},{"id":"2","x":8,"y":10},{"id":"2","x":9,"y":11},{"id":"2","x":10,"y":12},{"id":"2","x":11,"y":10.5},{"id":"2","x":12,"y":9},{"id":"2","x":13,"y":10},{"id":"2","x":14,"y":8},{"id":"2","x":15,"y":7.5},{"id":"2","x":16,"y":8.3},{"id":"2","x":17,"y":7.5},{"id":"2","x":18,"y":8},{"id":"2","x":19,"y":7.5},{"id":"2","x":20,"y":8.5},{"id":"2","x":21,"y":8},{"id":"2","x":22,"y":9},{"id":"2","x":24,"y":10},{"id":"2","x":25,"y":9.5},{"id":"2","x":26,"y":10.8},{"id":"2","x":27,"y":9},{"id":"2","x":28,"y":8.5},{"id":"2","x":29,"y":7.8},{"id":"2","x":30,"y":7},{"id":"2","x":30.7,"y":6.5},{"id":"2","x":30.8,"y":0},
{"id":"3","x":0,"y":0},{"id":"3","x":1.5,"y":1},{"id":"3","x":2.5,"y":5},{"id":"3","x":3.3,"y":7.5},{"id":"3","x":4.5,"y":7.8},{"id":"3","x":5.5,"y":7.5},{"id":"3","x":6.5,"y":7.3},{"id":"3","x":7.5,"y":6.5},{"id":"3","x":8.5,"y":7.2},{"id":"3","x":10,"y":8.5},{"id":"3","x":11,"y":9.5},{"id":"3","x":12,"y":11},{"id":"3","x":13,"y":11.5},{"id":"3","x":14,"y":12.5},{"id":"3","x":15,"y":13},{"id":"3","x":16,"y":13.8},{"id":"3","x":17,"y":15},{"id":"3","x":18,"y":15.5},{"id":"3","x":19,"y":16.5},{"id":"3","x":20,"y":15},{"id":"3","x":21,"y":16.3},{"id":"3","x":22,"y":15.5},{"id":"3","x":23,"y":16.8},{"id":"3","x":24,"y":17.2},{"id":"3","x":25,"y":16.5},{"id":"3","x":26,"y":17.5},{"id":"3","x":27,"y":18.3},{"id":"3","x":28,"y":17.5},{"id":"3","x":29,"y":16.5},{"id":"3","x":30,"y":15.5},{"id":"3","x":31,"y":14},{"id":"3","x":31.4,"y":13},{"id":"3","x":31.5,"y":0},
{"id":"4","x":0,"y":0},{"id":"4","x":1,"y":2},{"id":"4","x":2,"y":8},{"id":"4","x":2.8,"y":12.5},{"id":"4","x":4,"y":14},{"id":"4","x":5,"y":13.5},{"id":"4","x":6,"y":14},{"id":"4","x":7,"y":13},{"id":"4","x":8,"y":13.8},{"id":"4","x":9,"y":13},{"id":"4","x":10,"y":12.5},{"id":"4","x":12,"y":13},{"id":"4","x":14,"y":14.5},{"id":"4","x":16,"y":13.5},{"id":"4","x":18,"y":12.8},{"id":"4","x":20,"y":14},{"id":"4","x":22,"y":14.5},{"id":"4","x":24,"y":15.5},{"id":"4","x":26,"y":15},{"id":"4","x":28,"y":14.5},{"id":"4","x":29,"y":15},{"id":"4","x":30,"y":16},{"id":"4","x":31,"y":15},{"id":"4","x":32,"y":14.2},{"id":"4","x":32.3,"y":0},
{"id":"5","x":0,"y":0},{"id":"5","x":1.3,"y":1},{"id":"5","x":2.5,"y":7},{"id":"5","x":3.3,"y":12},{"id":"5","x":4.5,"y":13},{"id":"5","x":6,"y":12},{"id":"5","x":8,"y":11.5},{"id":"5","x":10,"y":11},{"id":"5","x":12,"y":11.8},{"id":"5","x":14,"y":11},{"id":"5","x":16,"y":10.5},{"id":"5","x":18,"y":11.2},{"id":"5","x":20,"y":11.8},{"id":"5","x":22,"y":12.5},{"id":"5","x":24,"y":13},{"id":"5","x":26,"y":13.8},{"id":"5","x":28,"y":13.5},{"id":"5","x":30,"y":13.2},{"id":"5","x":31,"y":13.5},{"id":"5","x":32,"y":13},{"id":"5","x":33,"y":13.2},{"id":"5","x":34,"y":12.5},{"id":"5","x":35,"y":12.2},{"id":"5","x":36,"y":12.3},{"id":"5","x":36.4,"y":12},{"id":"5","x":36.5,"y":0},
{"id":"m","x":0,"y":0},{"id":"m","x":0.8,"y":2},{"id":"m","x":1.5,"y":6},{"id":"m","x":2,"y":9},{"id":"m","x":2.5,"y":11},{"id":"m","x":3,"y":12.2},{"id":"m","x":3.5,"y":12.3},{"id":"m","x":4.5,"y":12.1},{"id":"m","x":5.5,"y":11.8},{"id":"m","x":7,"y":11.5},{"id":"m","x":8,"y":11.8},{"id":"m","x":9,"y":12.7},{"id":"m","x":10,"y":12.5},{"id":"m","x":11,"y":12.3},{"id":"m","x":12,"y":12.5},{"id":"m","x":14,"y":12.6},{"id":"m","x":16,"y":12.4},{"id":"m","x":18,"y":12.6},{"id":"m","x":20,"y":12.5},{"id":"m","x":22,"y":12.7},{"id":"m","x":24,"y":13},{"id":"m","x":25,"y":13.2},{"id":"m","x":26,"y":13.1},{"id":"m","x":28,"y":12.7},{"id":"m","x":29,"y":12.3},{"id":"m","x":30,"y":12},{"id":"m","x":31,"y":11.8},{"id":"m","x":31.5,"y":11.6},{"id":"m","x":31.8,"y":10},{"id":"m","x":32,"y":0},
{"id":"r","x":0,"y":0},{"id":"r","x":0.5,"y":4},{"id":"r","x":1,"y":8.5},{"id":"r","x":1.6,"y":13},{"id":"r","x":2.1,"y":14.8},{"id":"r","x":2.6,"y":14.2},{"id":"r","x":3.2,"y":13.3},{"id":"r","x":4,"y":12.8},{"id":"r","x":5,"y":12.6},{"id":"r","x":7,"y":12.5},{"id":"r","x":10,"y":12.5},{"id":"r","x":14,"y":12.5},{"id":"r","x":18,"y":12.4}
]
},
"columns": 4,
"spacing": {"row": 73, "column": 56},
"bounds": "flush",
"resolve": {"scale": {"color": "independent"}, "legend": {"color": "independent"}},
"concat": [
{"width": 230, "height": 156, "data": {"name": "a"},
 "layer": [
  {"transform": [{"filter": "datum.id!='m'&&datum.id!='r'"}], "mark": {"type": "line", "strokeWidth": 1.3, "opacity": 0.8},
   "encoding": {"detail": {"field": "id"},
    "x": {"field": "x", "type": "quantitative", "scale": {"domain": [0, 40]}, "axis": {"orient": "bottom", "values": [0,10,20,30,40], "title": null}},
    "y": {"field": "y", "type": "quantitative", "scale": {"domain": [0, 20]}, "axis": {"orient": "left", "values": [0,5,10,15,20], "title": "Force/width (N/m)", "titleFontSize": 17, "titlePadding": 6}},
    "color": {"datum": "Experimental data", "scale": {"domain": ["Experimental data", "Experimental mean", "Simulation"], "range": ["#a9a9a9", "#2a2a2a", "#d24b4b"]},
      "legend": {"orient": "none", "legendX": 57, "legendY": 6, "title": null, "symbolType": "stroke", "symbolSize": 420, "symbolStrokeWidth": 1.5, "labelFontSize": 16, "labelColor": "#111111", "labelFont": "Liberation Sans", "strokeColor": "#a0a0a0", "fillColor": "white", "padding": 4, "rowPadding": 0, "labelOffset": 2}}}},
  {"transform": [{"filter": "datum.id=='m'"}], "mark": {"type": "line", "strokeWidth": 1.5},
   "encoding": {
    "x": {"field": "x", "type": "quantitative", "scale": {"domain": [0, 40]}, "axis": {"orient": "top", "values": [0,10,20,30,40], "labels": false, "title": "Day 0 Circ", "titleFontSize": 16.5, "titlePadding": 5}},
    "y": {"field": "y", "type": "quantitative", "scale": {"domain": [0, 20]}, "axis": {"orient": "right", "values": [0,5,10,15,20], "labels": false, "title": "a", "titleAngle": 0, "titleX": -263, "titleY": -12, "titleAlign": "left", "titleBaseline": "alphabetic", "titleFontSize": 30, "titleColor": "#000000"}},
    "color": {"datum": "Experimental mean"}}},
  {"transform": [{"filter": "datum.id=='r'"}], "mark": {"type": "line", "strokeWidth": 1.8},
   "encoding": {
    "x": {"field": "x", "type": "quantitative", "scale": {"domain": [0, 40]}, "axis": null},
    "y": {"field": "y", "type": "quantitative", "scale": {"domain": [0, 20]}, "axis": null},
    "color": {"datum": "Simulation"}}}
 ],
 "resolve": {"axis": {"x": "independent", "y": "independent"}}},
{"width": 230, "height": 156, "data": {"name": "b"},
 "layer": [
  {"transform": [{"filter": "datum.id!='m'&&datum.id!='r'"}], "mark": {"type": "line", "color": "#a9a9a9", "strokeWidth": 1.3, "opacity": 0.8},
   "encoding": {"detail": {"field": "id"},
    "x": {"field": "x", "type": "quantitative", "scale": {"domain": [0, 40]}, "axis": {"orient": "bottom", "values": [0,10,20,30,40], "title": null}},
    "y": {"field": "y", "type": "quantitative", "scale": {"domain": [0, 20]}, "axis": {"orient": "left", "values": [0,5,10,15,20], "title": null}}}},
  {"transform": [{"filter": "datum.id=='m'"}], "mark": {"type": "line", "color": "#2a2a2a", "strokeWidth": 1.5},
   "encoding": {
    "x": {"field": "x", "type": "quantitative", "scale": {"domain": [0, 40]}, "axis": {"orient": "top", "values": [0,10,20,30,40], "labels": false, "title": "Day 7 Circ", "titleFontSize": 16.5, "titlePadding": 5}},
    "y": {"field": "y", "type": "quantitative", "scale": {"domain": [0, 20]}, "axis": {"orient": "right", "values": [0,5,10,15,20], "labels": false, "title": "b", "titleAngle": 0, "titleX": -263, "titleY": -12, "titleAlign": "left", "titleBaseline": "alphabetic", "titleFontSize": 30, "titleColor": "#000000"}}}},
  {"transform": [{"filter": "datum.id=='r'"}], "mark": {"type": "line", "color": "#d24b4b", "strokeWidth": 1.8},
   "encoding": {
    "x": {"field": "x", "type": "quantitative", "scale": {"domain": [0, 40]}, "axis": null},
    "y": {"field": "y", "type": "quantitative", "scale": {"domain": [0, 20]}, "axis": null}}}
 ],
 "resolve": {"axis": {"x": "independent", "y": "independent"}}},
{"width": 230, "height": 156, "data": {"name": "c"},
 "layer": [
  {"transform": [{"filter": "datum.id!='m'&&datum.id!='r'"}], "mark": {"type": "line", "color": "#a9a9a9", "strokeWidth": 1.3, "opacity": 0.8},
   "encoding": {"detail": {"field": "id"},
    "x": {"field": "x", "type": "quantitative", "scale": {"domain": [0, 40]}, "axis": {"orient": "bottom", "values": [0,10,20,30,40], "title": null}},
    "y": {"field": "y", "type": "quantitative", "scale": {"domain": [0, 20]}, "axis": {"orient": "left", "values": [0,5,10,15,20], "title": null}}}},
  {"transform": [{"filter": "datum.id=='m'"}], "mark": {"type": "line", "color": "#2a2a2a", "strokeWidth": 1.5},
   "encoding": {
    "x": {"field": "x", "type": "quantitative", "scale": {"domain": [0, 40]}, "axis": {"orient": "top", "values": [0,10,20,30,40], "labels": false, "title": "Day 14 Circ", "titleFontSize": 16.5, "titlePadding": 5}},
    "y": {"field": "y", "type": "quantitative", "scale": {"domain": [0, 20]}, "axis": {"orient": "right", "values": [0,5,10,15,20], "labels": false, "title": "c", "titleAngle": 0, "titleX": -263, "titleY": -12, "titleAlign": "left", "titleBaseline": "alphabetic", "titleFontSize": 30, "titleColor": "#000000"}}}},
  {"transform": [{"filter": "datum.id=='r'"}], "mark": {"type": "line", "color": "#d24b4b", "strokeWidth": 1.8},
   "encoding": {
    "x": {"field": "x", "type": "quantitative", "scale": {"domain": [0, 40]}, "axis": null},
    "y": {"field": "y", "type": "quantitative", "scale": {"domain": [0, 20]}, "axis": null}}}
 ],
 "resolve": {"axis": {"x": "independent", "y": "independent"}}},
{"width": 230, "height": 156, "data": {"name": "d"},
 "layer": [
  {"transform": [{"filter": "datum.id!='m'&&datum.id!='r'"}], "mark": {"type": "line", "color": "#a9a9a9", "strokeWidth": 1.3, "opacity": 0.8},
   "encoding": {"detail": {"field": "id"},
    "x": {"field": "x", "type": "quantitative", "scale": {"domain": [0, 40]}, "axis": {"orient": "bottom", "values": [0,10,20,30,40], "title": null}},
    "y": {"field": "y", "type": "quantitative", "scale": {"domain": [0, 20]}, "axis": {"orient": "left", "values": [0,5,10,15,20], "title": null}}}},
  {"transform": [{"filter": "datum.id=='m'"}], "mark": {"type": "line", "color": "#2a2a2a", "strokeWidth": 1.5},
   "encoding": {
    "x": {"field": "x", "type": "quantitative", "scale": {"domain": [0, 40]}, "axis": {"orient": "top", "values": [0,10,20,30,40], "labels": false, "title": "Day 21 Circ", "titleFontSize": 16.5, "titlePadding": 5}},
    "y": {"field": "y", "type": "quantitative", "scale": {"domain": [0, 20]}, "axis": {"orient": "right", "values": [0,5,10,15,20], "labels": false, "title": "d", "titleAngle": 0, "titleX": -263, "titleY": -12, "titleAlign": "left", "titleBaseline": "alphabetic", "titleFontSize": 30, "titleColor": "#000000"}}}},
  {"transform": [{"filter": "datum.id=='r'"}], "mark": {"type": "line", "color": "#d24b4b", "strokeWidth": 1.8},
   "encoding": {
    "x": {"field": "x", "type": "quantitative", "scale": {"domain": [0, 40]}, "axis": null},
    "y": {"field": "y", "type": "quantitative", "scale": {"domain": [0, 20]}, "axis": null}}}
 ],
 "resolve": {"axis": {"x": "independent", "y": "independent"}}},
{"width": 230, "height": 156, "data": {"name": "e"},
 "layer": [
  {"transform": [{"filter": "datum.id!='m'&&datum.id!='r'"}], "mark": {"type": "line", "color": "#a9a9a9", "strokeWidth": 1.3, "opacity": 0.8},
   "encoding": {"detail": {"field": "id"},
    "x": {"field": "x", "type": "quantitative", "scale": {"domain": [0, 40]}, "axis": {"orient": "bottom", "values": [0,10,20,30,40], "title": "Displacement (mm)", "titleFontSize": 17, "titlePadding": 5}},
    "y": {"field": "y", "type": "quantitative", "scale": {"domain": [0, 20]}, "axis": {"orient": "left", "values": [0,5,10,15,20], "title": "Force/width (N/m)", "titleFontSize": 17, "titlePadding": 6}}}},
  {"transform": [{"filter": "datum.id=='m'"}], "mark": {"type": "line", "color": "#2a2a2a", "strokeWidth": 1.5},
   "encoding": {
    "x": {"field": "x", "type": "quantitative", "scale": {"domain": [0, 40]}, "axis": {"orient": "top", "values": [0,10,20,30,40], "labels": false, "title": "Day 0 Long", "titleFontSize": 16.5, "titlePadding": 5}},
    "y": {"field": "y", "type": "quantitative", "scale": {"domain": [0, 20]}, "axis": {"orient": "right", "values": [0,5,10,15,20], "labels": false, "title": "e", "titleAngle": 0, "titleX": -263, "titleY": -16, "titleAlign": "left", "titleBaseline": "alphabetic", "titleFontSize": 30, "titleColor": "#000000"}}}},
  {"transform": [{"filter": "datum.id=='r'"}], "mark": {"type": "line", "color": "#d24b4b", "strokeWidth": 1.8},
   "encoding": {
    "x": {"field": "x", "type": "quantitative", "scale": {"domain": [0, 40]}, "axis": null},
    "y": {"field": "y", "type": "quantitative", "scale": {"domain": [0, 20]}, "axis": null}}}
 ],
 "resolve": {"axis": {"x": "independent", "y": "independent"}}},
{"width": 230, "height": 156, "data": {"name": "f"},
 "layer": [
  {"transform": [{"filter": "datum.id!='m'&&datum.id!='r'"}], "mark": {"type": "line", "color": "#a9a9a9", "strokeWidth": 1.3, "opacity": 0.8},
   "encoding": {"detail": {"field": "id"},
    "x": {"field": "x", "type": "quantitative", "scale": {"domain": [0, 40]}, "axis": {"orient": "bottom", "values": [0,10,20,30,40], "title": "Displacement (mm)", "titleFontSize": 17, "titlePadding": 5}},
    "y": {"field": "y", "type": "quantitative", "scale": {"domain": [0, 20]}, "axis": {"orient": "left", "values": [0,5,10,15,20], "title": null}}}},
  {"transform": [{"filter": "datum.id=='m'"}], "mark": {"type": "line", "color": "#2a2a2a", "strokeWidth": 1.5},
   "encoding": {
    "x": {"field": "x", "type": "quantitative", "scale": {"domain": [0, 40]}, "axis": {"orient": "top", "values": [0,10,20,30,40], "labels": false, "title": "Day 7 Long", "titleFontSize": 16.5, "titlePadding": 5}},
    "y": {"field": "y", "type": "quantitative", "scale": {"domain": [0, 20]}, "axis": {"orient": "right", "values": [0,5,10,15,20], "labels": false, "title": "f", "titleAngle": 0, "titleX": -263, "titleY": -16, "titleAlign": "left", "titleBaseline": "alphabetic", "titleFontSize": 30, "titleColor": "#000000"}}}},
  {"transform": [{"filter": "datum.id=='r'"}], "mark": {"type": "line", "color": "#d24b4b", "strokeWidth": 1.8},
   "encoding": {
    "x": {"field": "x", "type": "quantitative", "scale": {"domain": [0, 40]}, "axis": null},
    "y": {"field": "y", "type": "quantitative", "scale": {"domain": [0, 20]}, "axis": null}}}
 ],
 "resolve": {"axis": {"x": "independent", "y": "independent"}}},
{"width": 230, "height": 156, "data": {"name": "g"},
 "layer": [
  {"transform": [{"filter": "datum.id!='m'&&datum.id!='r'"}], "mark": {"type": "line", "color": "#a9a9a9", "strokeWidth": 1.3, "opacity": 0.8},
   "encoding": {"detail": {"field": "id"},
    "x": {"field": "x", "type": "quantitative", "scale": {"domain": [0, 40]}, "axis": {"orient": "bottom", "values": [0,10,20,30,40], "title": "Displacement (mm)", "titleFontSize": 17, "titlePadding": 5}},
    "y": {"field": "y", "type": "quantitative", "scale": {"domain": [0, 20]}, "axis": {"orient": "left", "values": [0,5,10,15,20], "title": null}}}},
  {"transform": [{"filter": "datum.id=='m'"}], "mark": {"type": "line", "color": "#2a2a2a", "strokeWidth": 1.5},
   "encoding": {
    "x": {"field": "x", "type": "quantitative", "scale": {"domain": [0, 40]}, "axis": {"orient": "top", "values": [0,10,20,30,40], "labels": false, "title": "Day 14 Long", "titleFontSize": 16.5, "titlePadding": 5}},
    "y": {"field": "y", "type": "quantitative", "scale": {"domain": [0, 20]}, "axis": {"orient": "right", "values": [0,5,10,15,20], "labels": false, "title": "g", "titleAngle": 0, "titleX": -263, "titleY": -16, "titleAlign": "left", "titleBaseline": "alphabetic", "titleFontSize": 30, "titleColor": "#000000"}}}},
  {"transform": [{"filter": "datum.id=='r'"}], "mark": {"type": "line", "color": "#d24b4b", "strokeWidth": 1.8},
   "encoding": {
    "x": {"field": "x", "type": "quantitative", "scale": {"domain": [0, 40]}, "axis": null},
    "y": {"field": "y", "type": "quantitative", "scale": {"domain": [0, 20]}, "axis": null}}}
 ],
 "resolve": {"axis": {"x": "independent", "y": "independent"}}},
{"width": 230, "height": 156, "data": {"name": "h"},
 "layer": [
  {"transform": [{"filter": "datum.id!='m'&&datum.id!='r'"}], "mark": {"type": "line", "color": "#a9a9a9", "strokeWidth": 1.3, "opacity": 0.8},
   "encoding": {"detail": {"field": "id"},
    "x": {"field": "x", "type": "quantitative", "scale": {"domain": [0, 40]}, "axis": {"orient": "bottom", "values": [0,10,20,30,40], "title": "Displacement (mm)", "titleFontSize": 17, "titlePadding": 5}},
    "y": {"field": "y", "type": "quantitative", "scale": {"domain": [0, 20]}, "axis": {"orient": "left", "values": [0,5,10,15,20], "title": null}}}},
  {"transform": [{"filter": "datum.id=='m'"}], "mark": {"type": "line", "color": "#2a2a2a", "strokeWidth": 1.5},
   "encoding": {
    "x": {"field": "x", "type": "quantitative", "scale": {"domain": [0, 40]}, "axis": {"orient": "top", "values": [0,10,20,30,40], "labels": false, "title": "Day 21 Long", "titleFontSize": 16.5, "titlePadding": 5}},
    "y": {"field": "y", "type": "quantitative", "scale": {"domain": [0, 20]}, "axis": {"orient": "right", "values": [0,5,10,15,20], "labels": false, "title": "h", "titleAngle": 0, "titleX": -263, "titleY": -16, "titleAlign": "left", "titleBaseline": "alphabetic", "titleFontSize": 30, "titleColor": "#000000"}}}},
  {"transform": [{"filter": "datum.id=='r'"}], "mark": {"type": "line", "color": "#d24b4b", "strokeWidth": 1.8},
   "encoding": {
    "x": {"field": "x", "type": "quantitative", "scale": {"domain": [0, 40]}, "axis": null},
    "y": {"field": "y", "type": "quantitative", "scale": {"domain": [0, 20]}, "axis": null}}}
 ],
 "resolve": {"axis": {"x": "independent", "y": "independent"}}}
]
}
